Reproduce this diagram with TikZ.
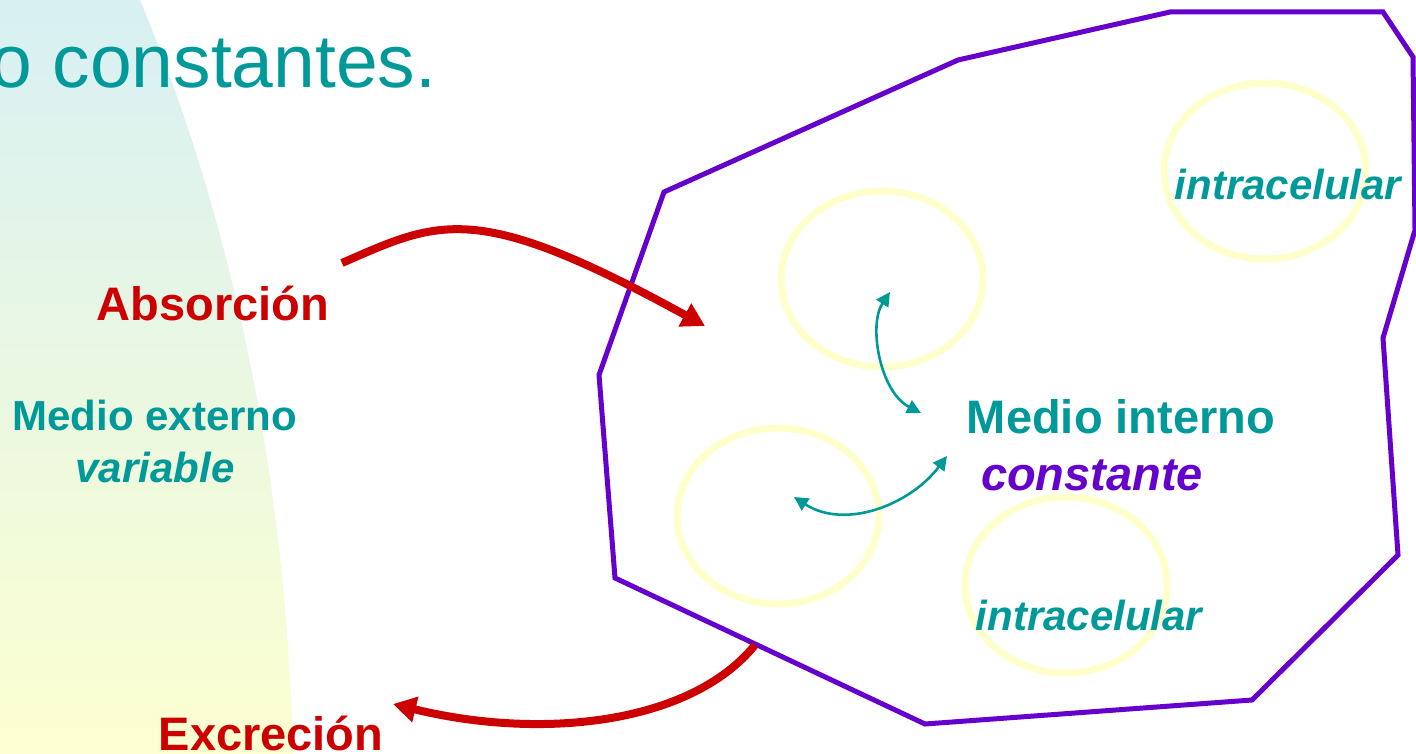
\documentclass[tikz,border=0pt]{standalone}
\usepackage{fontspec}
\setmainfont{Liberation Sans}
\usetikzlibrary{arrows.meta,shapes.geometric}
\definecolor{tealtxt}{RGB}{0,153,153}
\definecolor{violetline}{RGB}{102,0,204}
\definecolor{redarrow}{RGB}{204,0,0}
\definecolor{cellring}{RGB}{255,255,204}
\definecolor{bgtop}{RGB}{216,240,244}
\definecolor{bgbottom}{RGB}{252,255,208}
\begin{document}
\begin{tikzpicture}[x=1pt,y=-1pt,
  lbl/.style={inner sep=0pt,anchor=base},
  bigfont/.style={font=\fontsize{47}{56}\selectfont\bfseries},
  midfont/.style={font=\fontsize{42}{50}\selectfont\bfseries},
  miditalic/.style={font=\fontsize{42}{50}\selectfont\bfseries\itshape},
  bigitalic/.style={font=\fontsize{47}{56}\selectfont\bfseries\itshape},
  cell/.style={ellipse,draw=cellring,line width=7pt,inner sep=0pt,
    minimum width=202pt,minimum height=176pt},
  membrane/.style={draw=violetline,line width=5pt,line join=miter},
  redflow/.style={draw=redarrow,line width=8pt,
    -{Triangle[length=23pt,width=25pt]}},
  tealflow/.style={draw=tealtxt,line width=2.6pt,
    {Triangle[length=14pt,width=14pt]}-{Triangle[length=14pt,width=14pt]}}]
\useasboundingbox (0,0) rectangle (1416,754);

% soft shaded outer medium on the left
\shade[top color=bgtop,bottom color=bgbottom]
  (0,0) -- (140,0) .. controls (215,180) and (285,430) .. (293,754)
  -- (0,754) -- cycle;

% heading fragment
\node[inner sep=0pt,anchor=base west,text=tealtxt,
  font=\fontsize{75}{90}\selectfont] (heading) at (-10,88) {o constantes.};

% cells inside the organism
\node[cell] (cellA) at (882,279) {};
\node[cell] (cellB) at (778,516) {};
\node[cell] (cellC) at (1265,171) {};
\node[cell] (cellD) at (1066,585) {};

% organism boundary
\draw[membrane] (664,192) -- (958,60) -- (1170,12) -- (1383,12)
  -- (1413,57) -- (1415,230) -- (1383,338) -- (1398,555) -- (1252,700)
  -- (925,724) -- (615,578) -- (599,375) -- cycle;

% exchange arrows
\coordinate (absStart) at (342,263);
\coordinate (absEnd) at (705,326);
\coordinate (excStart) at (755,645);
\coordinate (excEnd) at (393,704);
\coordinate (upTop) at (890,292);
\coordinate (upBot) at (921,413);
\coordinate (lowLeft) at (794,497);
\coordinate (lowRight) at (947,456);

\draw[redflow] (absStart) .. controls (440,220) and (476,200) .. (absEnd);
\draw[redflow] (excStart) .. controls (690,725) and (540,740) .. (excEnd);
\draw[tealflow] (upTop) .. controls (868,325) and (880,392) .. (upBot);
\draw[tealflow] (lowLeft) .. controls (845,530) and (910,505) .. (lowRight);

% labels
\node[lbl,bigfont,text=redarrow] (absorcion) at (213,320) {Absorción};
\node[lbl,bigfont,text=redarrow] (excrecion) at (271,750) {Excreción};
\node[lbl,midfont,text=tealtxt] (externo) at (155,430) {Medio externo};
\node[lbl,miditalic,text=tealtxt] (variable) at (155,482) {variable};
\node[lbl,bigfont,text=tealtxt] (interno) at (1121,433) {Medio interno};
\node[lbl,bigitalic,text=violetline] (constante) at (1092,490) {constante};
\node[lbl,miditalic,text=tealtxt] (intraA) at (1288,200) {intracelular};
\node[lbl,miditalic,text=tealtxt] (intraB) at (1089,630) {intracelular};
\end{tikzpicture}
\end{document}
